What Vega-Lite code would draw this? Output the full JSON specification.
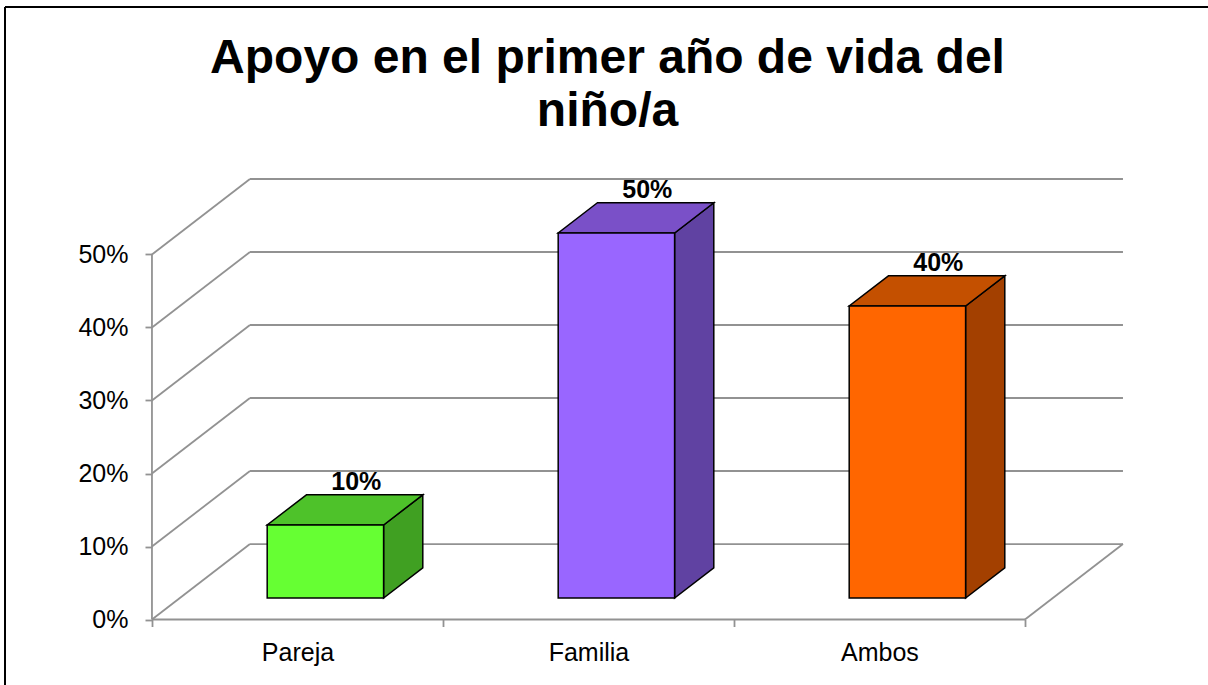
{
  "$schema": "https://vega.github.io/schema/vega-lite/v6.json",
  "autosize": {"type": "none"},
  "width": 1203,
  "height": 678,
  "padding": {"left": 5, "top": 7, "right": 0, "bottom": 0},
  "background": "white",
  "title": {
    "text": ["Apoyo en el primer año de vida del", "niño/a"],
    "font": "Liberation Sans",
    "fontSize": 48,
    "fontWeight": "bold",
    "color": "black",
    "anchor": "middle",
    "frame": "group",
    "offset": -130,
    "dx": 1,
    "lineHeight": 53
  },
  "config": {
    "view": {"stroke": null},
    "font": "Liberation Sans"
  },
  "datasets": {
    "bars": [
      {"cat": "Pareja", "i": 0, "value": 10},
      {"cat": "Familia", "i": 1, "value": 50},
      {"cat": "Ambos", "i": 2, "value": 40}
    ],
    "grid": [
      {"v": 0}, {"v": 10}, {"v": 20}, {"v": 30}, {"v": 40}, {"v": 50}
    ],
    "one": [{"k": 1}]
  },
  "layer": [
    {
      "data": {"name": "grid"},
      "transform": [{"calculate": "datum.v + 10.34", "as": "vb"}],
      "mark": {"type": "rule", "color": "#929292", "strokeWidth": 1.8},
      "encoding": {
        "x": {"datum": 0, "type": "quantitative",
          "scale": {"domain": [-0.505, 3.629], "nice": false, "zero": false},
          "axis": {"title": null, "values": [0, 1, 2, 3], "domain": false, "grid": false,
            "labelExpr": "['Pareja','Familia','Ambos',''][datum.value]",
            "labelOffset": 145.5, "labelFlush": false, "labelOverlap": false, "labelBound": false,
            "labelFontSize": 25, "labelColor": "black", "labelFont": "Liberation Sans",
            "labelPadding": 14, "tickColor": "#929292", "tickWidth": 1.8, "tickSize": 7,
            "offset": -65.5}},
        "x2": {"datum": 0.3368},
        "y": {"field": "v", "type": "quantitative",
          "scale": {"domain": [-8.97, 83.9], "nice": false, "zero": false},
          "axis": {"title": null, "values": [0, 10, 20, 30, 40, 50], "domain": false, "grid": false,
            "labelExpr": "datum.value + '%'", "labelFontSize": 25, "labelColor": "black",
            "labelFont": "Liberation Sans", "labelPadding": 17, "tickColor": "#929292",
            "tickWidth": 1.8, "tickSize": 7, "offset": -147}},
        "y2": {"field": "vb"}
      }
    },
    {
      "data": {"name": "grid"},
      "transform": [{"calculate": "datum.v + 10.34", "as": "vb"}],
      "mark": {"type": "rule", "color": "#929292", "strokeWidth": 1.8},
      "encoding": {
        "x": {"datum": 0.3368, "type": "quantitative", "title": null},
        "x2": {"datum": 3.3368},
        "y": {"field": "vb", "type": "quantitative", "title": null}
      }
    },
    {
      "data": {"name": "one"},
      "mark": {"type": "rule", "color": "#929292", "strokeWidth": 1.8},
      "encoding": {
        "x": {"datum": 0, "type": "quantitative", "title": null},
        "x2": {"datum": 3},
        "y": {"datum": 0, "type": "quantitative", "title": null}
      }
    },
    {
      "data": {"name": "one"},
      "mark": {"type": "rule", "color": "#929292", "strokeWidth": 1.8},
      "encoding": {
        "x": {"datum": 3, "type": "quantitative", "title": null},
        "x2": {"datum": 3.3368},
        "y": {"datum": 0, "type": "quantitative", "title": null},
        "y2": {"datum": 10.34}
      }
    },
    {
      "data": {"name": "one"},
      "mark": {"type": "rule", "color": "#929292", "strokeWidth": 1.8},
      "encoding": {
        "x": {"datum": 0, "type": "quantitative", "title": null},
        "y": {"datum": 0, "type": "quantitative", "title": null},
        "y2": {"datum": 50}
      }
    },
    {
      "data": {"name": "one"},
      "mark": {"type": "rule", "color": "black", "strokeWidth": 2},
      "encoding": {
        "x": {"datum": -0.505, "type": "quantitative", "title": null},
        "y": {"datum": -8.97, "type": "quantitative", "title": null},
        "y2": {"datum": 83.9}
      }
    },
    {
      "data": {"name": "one"},
      "mark": {"type": "rule", "color": "black", "strokeWidth": 2},
      "encoding": {
        "x": {"datum": -0.505, "type": "quantitative", "title": null},
        "x2": {"datum": 3.629},
        "y": {"datum": 83.9, "type": "quantitative", "title": null}
      }
    },
    {
      "data": {"name": "bars"},
      "transform": [
        {"calculate": "0.285", "as": "a"},
        {"calculate": "0.685", "as": "b"},
        {"fold": ["a", "b"], "as": ["k", "d"]},
        {"calculate": "datum.i + 0.7 + datum.d * 0.3368", "as": "sx"},
        {"calculate": "datum.d * 10.34", "as": "lo"},
        {"calculate": "datum.value + datum.d * 10.34", "as": "hi"}
      ],
      "mark": {"type": "area", "orient": "vertical", "stroke": "black", "strokeWidth": 1.5, "opacity": 1},
      "encoding": {
        "x": {"field": "sx", "type": "quantitative", "title": null},
        "y": {"field": "hi", "type": "quantitative", "title": null},
        "y2": {"field": "lo"},
        "color": {"field": "cat", "type": "nominal", "legend": null,
          "scale": {"domain": ["Pareja", "Familia", "Ambos"], "range": ["#40A022", "#6042A2", "#A34000"]}}
      }
    },
    {
      "data": {"name": "bars"},
      "transform": [
        {"calculate": "0.285", "as": "a"},
        {"calculate": "0.685", "as": "b"},
        {"fold": ["a", "b"], "as": ["k", "d"]},
        {"calculate": "datum.i + 0.3 + datum.d * 0.3368", "as": "xl"},
        {"calculate": "datum.i + 0.7 + datum.d * 0.3368", "as": "xr"},
        {"calculate": "datum.value + datum.d * 10.34", "as": "sy"}
      ],
      "mark": {"type": "area", "orient": "horizontal", "stroke": "black", "strokeWidth": 1.5, "opacity": 1},
      "encoding": {
        "y": {"field": "sy", "type": "quantitative", "title": null},
        "x": {"field": "xl", "type": "quantitative", "title": null},
        "x2": {"field": "xr"},
        "color": {"field": "cat", "type": "nominal", "legend": null,
          "scale": {"domain": ["Pareja", "Familia", "Ambos"], "range": ["#4EC22A", "#7A50C8", "#C45000"]}}
      }
    },
    {
      "data": {"name": "bars"},
      "transform": [
        {"calculate": "datum.i + 0.3 + 0.285 * 0.3368", "as": "x0"},
        {"calculate": "datum.i + 0.7 + 0.285 * 0.3368", "as": "x1"},
        {"calculate": "0.285 * 10.34", "as": "y0"},
        {"calculate": "datum.value + 0.285 * 10.34", "as": "y1"}
      ],
      "mark": {"type": "rect", "stroke": "black", "strokeWidth": 1.5, "opacity": 1},
      "encoding": {
        "x": {"field": "x0", "type": "quantitative", "title": null},
        "x2": {"field": "x1"},
        "y": {"field": "y1", "type": "quantitative", "title": null},
        "y2": {"field": "y0"},
        "color": {"field": "cat", "type": "nominal", "legend": null,
          "scale": {"domain": ["Pareja", "Familia", "Ambos"], "range": ["#66FF33", "#9966FF", "#FF6600"]}}
      }
    },
    {
      "data": {"name": "bars"},
      "transform": [
        {"calculate": "datum.i + 0.5 + 0.6 * 0.3368", "as": "tx"},
        {"calculate": "datum.value + 0.685 * 10.34", "as": "ty"},
        {"calculate": "datum.value + '%'", "as": "lbl"}
      ],
      "mark": {"type": "text", "font": "Liberation Sans", "fontSize": 25, "fontWeight": "bold",
        "color": "black", "baseline": "alphabetic", "align": "center", "dy": -5},
      "encoding": {
        "x": {"field": "tx", "type": "quantitative", "title": null},
        "y": {"field": "ty", "type": "quantitative", "title": null},
        "text": {"field": "lbl"}
      }
    }
  ],
  "resolve": {"scale": {"color": "independent"}}
}
